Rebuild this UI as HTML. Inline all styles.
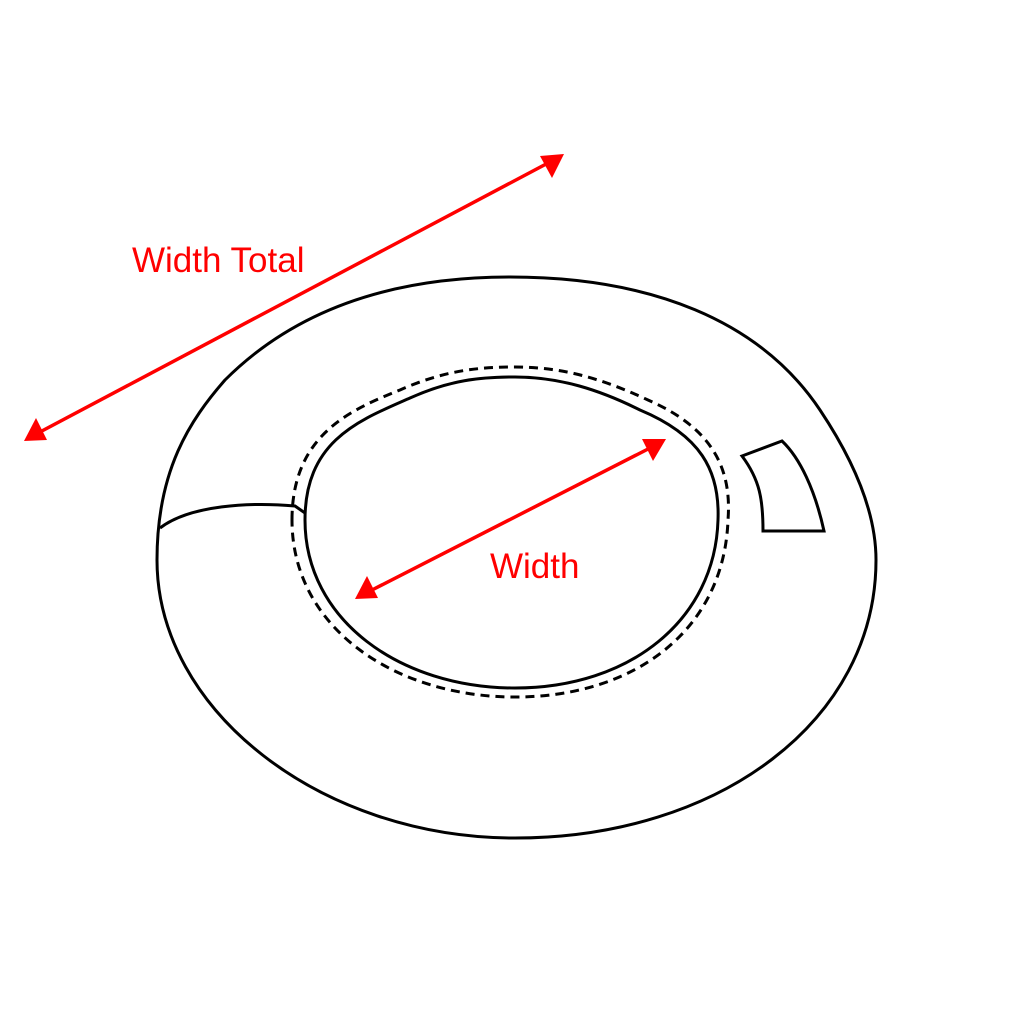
<!DOCTYPE html>
<html><head><style>html,body{margin:0;padding:0;background:#fff}</style></head>
<body>
<svg width="1024" height="1024" viewBox="0 0 1024 1024" xmlns="http://www.w3.org/2000/svg">
<g fill="none" stroke="#000" stroke-width="3">
<path d="M157,560 C157,470 190,420 225,380 C300,305 400,277 510,277 C650,277 760,320 820,410 C860,470 876,520 876,560 C876,720 720,838 515,838 C320,838 157,710 157,560 Z"/>
<path d="M305,520 C305,440 360,420 410,398 C450,380 480,377 515,377 C560,377 600,390 640,410 C700,435 720,470 718,520 C715,620 630,688 515,688 C400,688 305,620 305,520 Z"/>
<path stroke-dasharray="9,6" d="M292,520 C292,435 350,410 400,390 C445,370 480,367 515,367 C565,367 605,380 648,400 C712,428 732,468 728,520 C724,630 635,697 515,697 C395,697 292,628 292,520 Z"/>
<path d="M160,528 C190,505 250,502 295,506 L305,513"/>
<path d="M742,456 L782,441 C800,458 815,490 824,531 L763,531 C763,500 760,480 742,456 Z"/>
</g>
<g stroke="red" stroke-width="3.5">
<line x1="40" y1="432" x2="548" y2="163"/>
<line x1="372" y1="590" x2="650" y2="448"/>
</g>
<g fill="red">
<polygon points="24,441 36,418 47,440"/>
<polygon points="564,154 540,156 552,178"/>
<polygon points="355,599 367,576 378,598"/>
<polygon points="666,439 642,439 653,461"/>
</g>
<g fill="red" font-family="Liberation Sans, sans-serif" font-size="35">
<text x="132" y="272">Width Total</text>
<text x="490" y="578">Width</text>
</g>
</svg>
</body></html>
